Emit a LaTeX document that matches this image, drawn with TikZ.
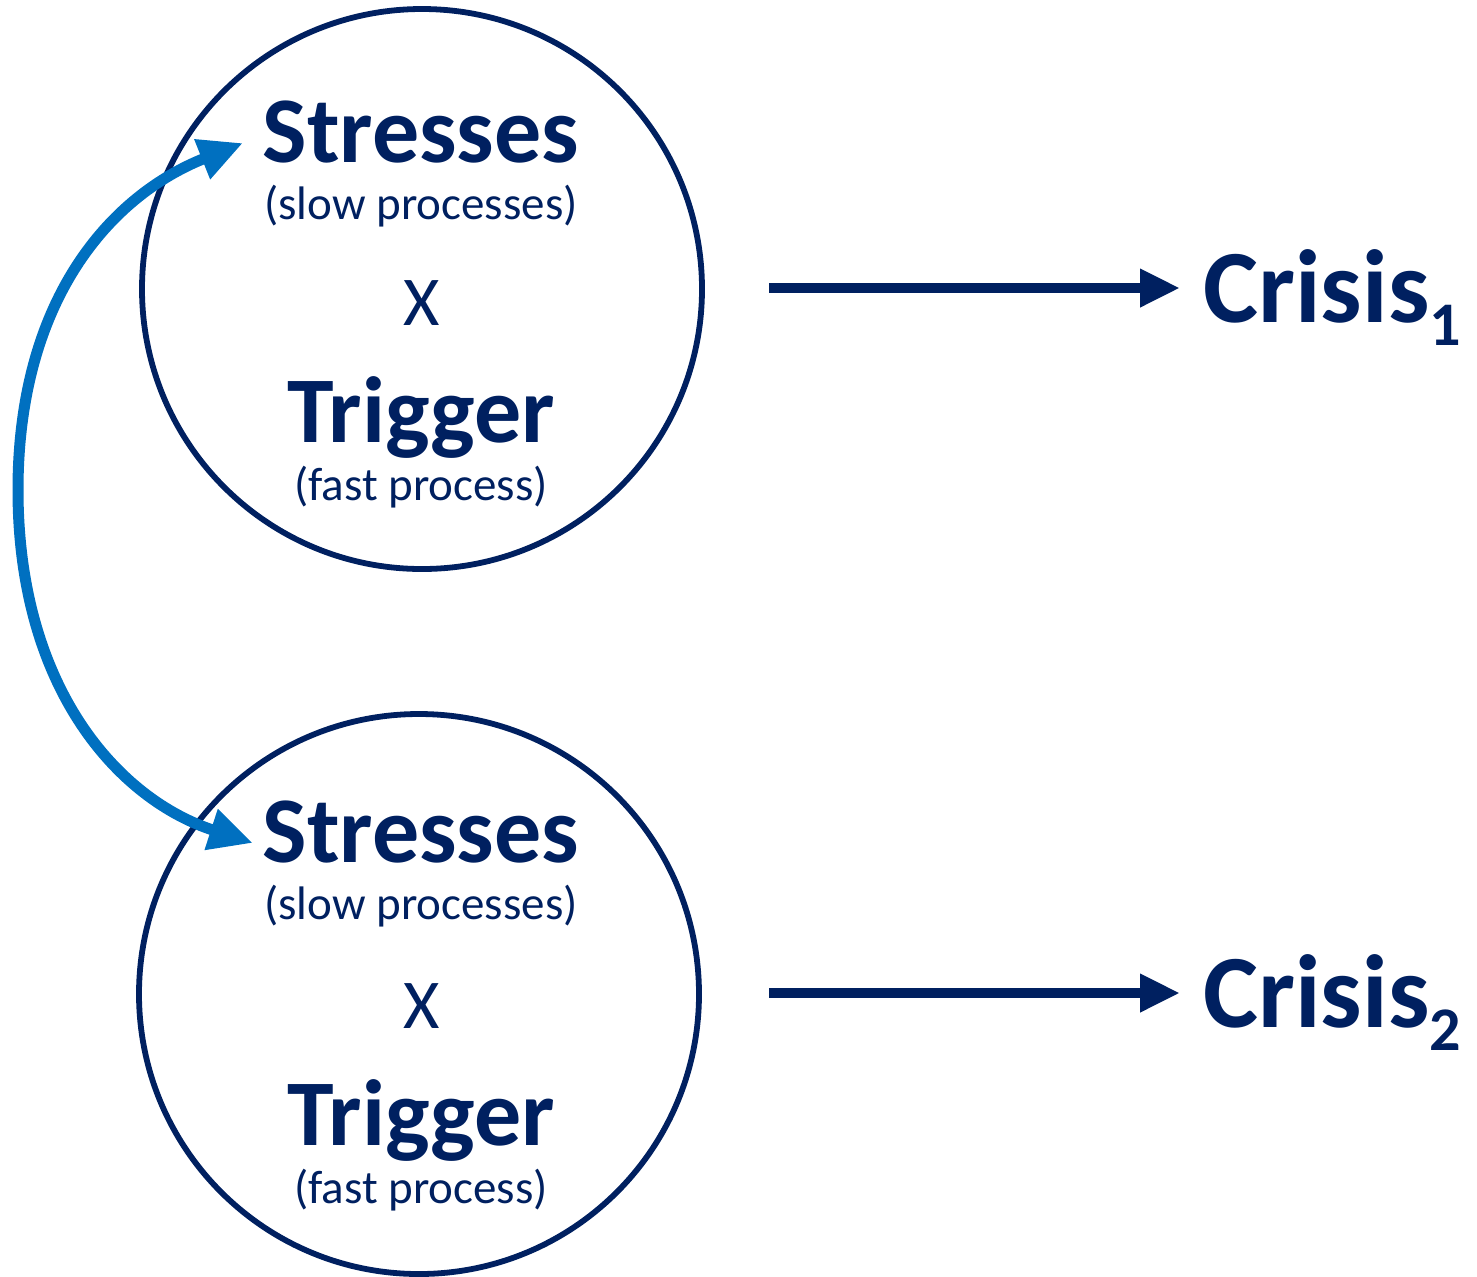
\documentclass[tikz,border=0pt]{standalone}
\usepackage{fontspec}
\setmainfont{Carlito}
\usetikzlibrary{arrows.meta}
\definecolor{navy}{HTML}{002060}
\definecolor{lblue}{HTML}{0070C0}
\tikzset{
  ring/.style={circle, draw=navy, line width=2.9pt, minimum size=280pt, inner sep=0pt},
  bigtxt/.style={text=navy, anchor=base, inner sep=0pt, font=\fontsize{47}{47}\selectfont\bfseries},
  smalltxt/.style={text=navy, anchor=base, inner sep=0pt, font=\fontsize{23.5}{24}\selectfont},
  xtxt/.style={text=navy, anchor=base, inner sep=0pt, font=\fontsize{35}{35}\selectfont},
  crisis/.style={text=navy, anchor=base west, inner sep=0pt, font=\fontsize{52}{52}\selectfont\bfseries},
  navyarrow/.style={draw=navy, line width=5pt, -{Triangle[length=20pt,width=18pt]}},
  bluearrow/.style={draw=lblue, line width=5.5pt, {Triangle[length=22pt,width=20pt]}-{Triangle[length=22pt,width=20pt]}}
}
\begin{document}
\begin{tikzpicture}[x=0.5pt,y=-0.5pt]
\useasboundingbox (0,0) rectangle (1477,1276);
% circles
\node[ring] (c1) at (422,289) {};
\node[ring] (c2) at (419,994) {};
% texts circle 1
\node[bigtxt] (s1) at (421,162) {Stresses};
\node[smalltxt] (sp1) at (421,219) {(slow processes)};
\node[xtxt] (x1) at (422,325) {X};
\node[bigtxt] (tr1) at (421,442) {Trigger};
\node[smalltxt] (fp1) at (421,500) {(fast process)};
% texts circle 2
\node[bigtxt] (s2) at (421,862) {Stresses};
\node[smalltxt] (sp2) at (421,919) {(slow processes)};
\node[xtxt] (x2) at (422,1028) {X};
\node[bigtxt] (tr2) at (421,1145) {Trigger};
\node[smalltxt] (fp2) at (421,1203) {(fast process)};
% crisis labels
\node[crisis] (cr1) at (1203,322) {Crisis\raisebox{-11.5pt}{\fontsize{31}{31}\selectfont 1}};
\node[crisis] (cr2) at (1203,1027) {Crisis\raisebox{-11.5pt}{\fontsize{31}{31}\selectfont 2}};
% horizontal arrows
\coordinate (a1) at (769,288);
\coordinate (a2) at (769,993);
\draw[navyarrow, shorten >=11.5pt] (a1) -- (a1 -| cr1.west);
\draw[navyarrow, shorten >=11.5pt] (a2) -- (a2 -| cr2.west);
% blue curved arrow
\coordinate (t1) at (243,143);
\coordinate (t2) at (253,843);
\coordinate (m) at (18,490);
\draw[bluearrow] (t1) .. controls (110,196) and (18,300) .. (m) .. controls (18,690) and (120,800) .. (t2);
\end{tikzpicture}
\end{document}
